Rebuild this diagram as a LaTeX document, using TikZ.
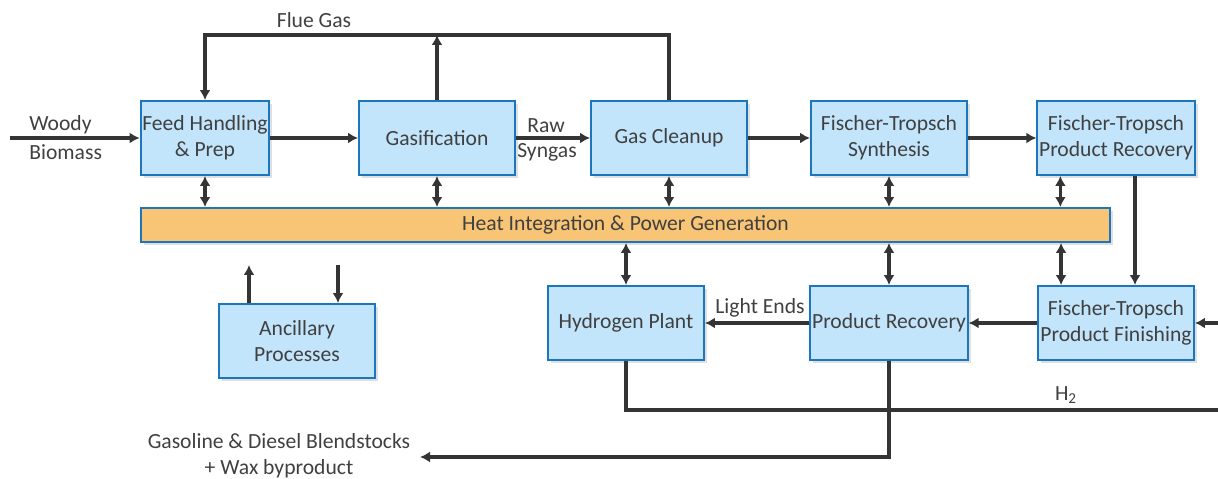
\documentclass[tikz,border=0pt]{standalone}
\usepackage{fontspec}
\setmainfont{Carlito}
\usepackage{tikz}
\usetikzlibrary{positioning,arrows.meta,shadows}

\definecolor{boxfill}{RGB}{194,229,251}
\definecolor{boxline}{RGB}{28,118,190}
\definecolor{heatfill}{RGB}{248,196,118}
\definecolor{flowgray}{RGB}{52,52,52}
\definecolor{txtgray}{RGB}{64,64,64}

\begin{document}
\begin{tikzpicture}[x=0.02cm, y=-0.02cm,
  font=\fontsize{12.3}{14.8}\selectfont, text=txtgray,
  unit/.style={draw=boxline, fill=boxfill, line width=1.1pt, minimum width=3.12cm,
    minimum height=1.48cm, align=center, inner sep=1pt,
    drop shadow={shadow xshift=0.06cm, shadow yshift=-0.06cm, opacity=0.25}},
  flow/.style={draw=flowgray, line width=1.8pt, -{Latex[length=2mm, width=2.2mm]}},
  both/.style={draw=flowgray, line width=1.8pt,
    {Latex[length=2mm, width=2.2mm]}-{Latex[length=2mm, width=2.2mm]}},
  plain/.style={draw=flowgray, line width=1.8pt}]
\useasboundingbox (0,0) rectangle (1218,479);
% ---- top row ----
\node[unit, minimum width=2.56cm] (feed) at (205,138) {Feed Handling\\\& Prep};
\node[unit] (gasif) at (437,138) {Gasification};
\node[unit] (clean) at (669,138) {Gas Cleanup};
\node[unit] (fts) at (889,138) {Fischer-Tropsch\\Synthesis};
\node[unit] (ftrec) at (1116,138) {Fischer-Tropsch\\Product Recovery};
% ---- heat bar ----
\node[unit, fill=heatfill, minimum width=19.4cm, minimum height=0.68cm] (heat) at (625.5,225)
  {Heat Integration \& Power Generation};
% ---- bottom row ----
\node[unit] (h2plant) at (626,323) {Hydrogen Plant};
\node[unit] (prodrec) at (889,323) {Product Recovery};
\node[unit] (ftfin) at (1116,323) {Fischer-Tropsch\\Product Finishing};
\node[unit] (anc) at (297,341) {Ancillary\\Processes};
% feed in
\coordinate (woodin) at (10,138);
\draw[flow] (woodin) -- (feed.west);
\node[anchor=west, inner sep=0pt] (woodlbl) at (29,125) {Woody};
\node[anchor=west, inner sep=0pt] (biolbl) at (29,152) {Biomass};
% main line
\draw[flow] (feed.east) -- (gasif.west);
\draw[flow] (gasif.east) -- (clean.west);
\node (rawlbl) at (546,126) {Raw};
\node (synlbl) at (547,152) {Syngas};
\draw[flow] (clean.east) -- (fts.west);
\draw[flow] (fts.east) -- (ftrec.west);
% flue gas loop
\coordinate (flueL) at (205,35);
\coordinate (flueR) at (669,35);
\draw[flow] (clean.north) -- (flueR) -- (flueL) -- (feed.north);
\draw[flow] (gasif.north) -- (gasif.north |- flueL);
\node (fluelbl) at (314,20) {Flue Gas};
% heat exchange
\foreach \u in {feed,gasif,clean,fts}
  \draw[both] (\u.south) -- (\u.south |- heat.north);
\coordinate (ftrecport) at ([xshift=0.48cm]ftrec.south west);
\coordinate (ftfinport) at ([xshift=0.48cm]ftfin.north west);
\draw[both] (ftrecport) -- (ftrecport |- heat.north);
\foreach \u in {h2plant,prodrec}
  \draw[both] (\u.north |- heat.south) -- (\u.north);
\draw[both] (ftfinport |- heat.south) -- (ftfinport);
% ancillary
\coordinate (ancout) at (249,265);
\coordinate (ancin) at (338,265);
\draw[flow] (ancout |- anc.north) -- (ancout);
\draw[flow] (ancin) -- (ancin |- anc.north);
% product side
\coordinate (ftdrop) at (1135,230);
\draw[flow] (ftrec.south -| ftdrop) -- (ftfin.north -| ftdrop);
\coordinate (h2in) at (1218,323);
\draw[flow] (h2in) -- (ftfin.east);
\draw[flow] (ftfin.west) -- (prodrec.east);
\draw[flow] (prodrec.west) -- (h2plant.east);
\node (lightlbl) at (760,308) {Light Ends};
% hydrogen out
\coordinate (h2out) at (1218,410);
\draw[plain] (h2plant.south) |- (h2out);
\node (h2lbl) at (1066,395) {H\textsubscript{2}};
% fuels out
\coordinate (fuelout) at (420,457);
\draw[flow] (prodrec.south) |- (fuelout);
\node[align=center] (fuellbl) at (279,456) {Gasoline \& Diesel Blendstocks\\+ Wax byproduct};
\end{tikzpicture}
\end{document}
